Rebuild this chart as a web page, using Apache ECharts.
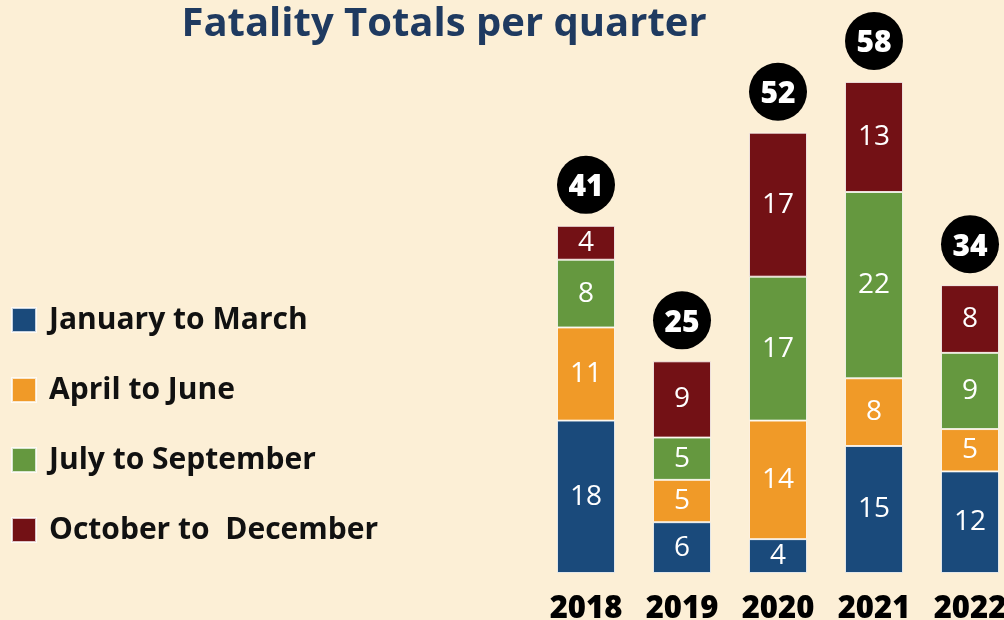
<!DOCTYPE html>
<html>
<head>
    <meta charset="utf-8">
    <title>Fatality Totals per quarter</title>
    <style type="text/css">
        body { margin: 0; background: #fcefd6; }
    </style>
</head>
<body>
<div id="main" style="width: 1004px;height:620px;"></div>

<script type="text/javascript" src="https://cdn.jsdelivr.net/npm/echarts@6/dist/echarts.min.js"></script>
<script type="text/javascript">
    var years = ['2018', '2019', '2020', '2021', '2022'];
    var janMar = [18, 6, 4, 15, 12];
    var aprJun = [11, 5, 14, 8, 5];
    var julSep = [8, 5, 17, 22, 9];
    var octDec = [4, 9, 17, 13, 8];
    var totals = [41, 25, 52, 58, 34];

    var colorList = ['#1a4a7b', '#f09a28', '#65983f', '#731115'];
    var font = '"Open Sans", "Noto Sans", sans-serif';

    var myChart = echarts.init(document.getElementById('main'));

    function seg(name, data, i) {
        return {
            name: name,
            type: 'bar',
            stack: 'q',
            barWidth: 58,
            itemStyle: {
                color: colorList[i],
                borderColor: 'rgba(255,255,255,0.75)',
                borderWidth: 1
            },
            label: {
                show: true,
                position: 'inside',
                color: '#fff',
                fontFamily: font,
                fontSize: 28
            },
            data: data
        };
    }

    myChart.setOption({
        backgroundColor: '#fcefd6',
        animation: false,
        title: {
            text: 'Fatality Totals per quarter',
            left: 439,
            textAlign: 'center',
            top: 0,
            textStyle: {
                fontFamily: font,
                fontSize: 40,
                fontWeight: 'bold',
                color: '#1f3a60'
            }
        },
        legend: {
            orient: 'vertical',
            left: 6,
            top: 300,
            itemWidth: 24,
            itemHeight: 24,
            itemGap: 40,
            icon: 'rect',
            data: ['January to March', 'April to June', 'July to September', 'October to  December'],
            textStyle: {
                fontFamily: font,
                fontSize: 30,
                fontWeight: 'bold',
                color: '#111',
                lineHeight: 30,
                padding: [0, 0, 0, 8]
            }
        },
        grid: {
            left: 538,
            top: 65,
            width: 480,
            height: 508,
            outerBoundsMode: 'none',
            containLabel: false
        },
        xAxis: {
            type: 'category',
            data: years,
            axisLine: { show: false },
            axisTick: { show: false },
            axisLabel: {
                margin: 21,
                fontFamily: font,
                fontSize: 31,
                fontWeight: 800,
                color: '#000'
            }
        },
        yAxis: {
            type: 'value',
            min: 0,
            max: 60,
            show: false,
            splitLine: { show: false }
        },
        series: [
            seg('January to March', janMar, 0),
            seg('April to June', aprJun, 1),
            seg('July to September', julSep, 2),
            seg('October to  December', octDec, 3),
            {
                type: 'custom',
                data: totals.map(function (t, i) { return [i, t]; }),
                renderItem: function (params, api) {
                    var p = api.coord([api.value(0), api.value(1)]);
                    return {
                        type: 'group',
                        children: [{
                            type: 'circle',
                            shape: { cx: p[0], cy: p[1] - 41, r: 29 },
                            style: { fill: '#000' }
                        }, {
                            type: 'text',
                            x: p[0],
                            y: p[1] - 38,
                            style: {
                                text: String(api.value(1)),
                                fill: '#fff',
                                font: '800 30px ' + font,
                                align: 'center',
                                verticalAlign: 'middle'
                            }
                        }]
                    };
                }
            }
        ]
    });
</script>

</body>
</html>
